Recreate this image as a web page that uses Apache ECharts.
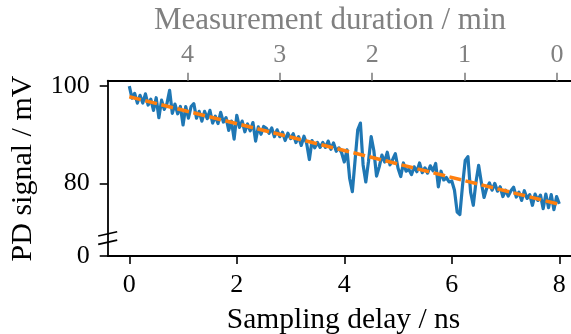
<!DOCTYPE html>
<html><head><meta charset="utf-8">
<script src="https://cdn.jsdelivr.net/npm/echarts@6/dist/echarts.min.js"></script>
<style>html,body{margin:0;padding:0;background:#fff}#c{width:571px;height:334px}</style>
</head><body><div id="c"></div>
<script>
// Sampling delay (ns)
const delay = [0.00,0.05,0.10,0.15,0.20,0.25,0.30,0.35,0.40,0.45,0.50,0.55,0.60,0.65,0.70,0.75,0.80,0.85,0.90,0.95,
1.00,1.05,1.10,1.15,1.20,1.25,1.30,1.35,1.40,1.45,1.50,1.55,1.60,1.65,1.70,1.75,1.80,1.85,1.90,1.95,
2.00,2.05,2.10,2.15,2.20,2.25,2.30,2.35,2.40,2.45,2.50,2.55,2.60,2.65,2.70,2.75,2.80,2.85,2.90,2.95,
3.00,3.05,3.10,3.15,3.20,3.25,3.30,3.35,3.40,3.45,3.50,3.55,3.60,3.65,3.70,3.75,3.80,3.85,3.90,3.95,
4.00,4.05,4.10,4.15,4.20,4.25,4.30,4.35,4.40,4.45,4.50,4.55,4.60,4.65,4.70,4.75,4.80,4.85,4.90,4.95,
5.00,5.05,5.10,5.15,5.20,5.25,5.30,5.35,5.40,5.45,5.50,5.55,5.60,5.65,5.70,5.75,5.80,5.85,5.90,5.95,
6.00,6.05,6.10,6.15,6.20,6.25,6.30,6.35,6.40,6.45,6.50,6.55,6.60,6.65,6.70,6.75,6.80,6.85,6.90,6.95,
7.00,7.05,7.10,7.15,7.20,7.25,7.30,7.35,7.40,7.45,7.50,7.55,7.60,7.65,7.70,7.75,7.80,7.85,7.90,7.95,8.00];
// PD signal (mV)
const signal = [100.0,97.5,98.5,96.5,98.1,96.5,98.4,96.1,97.3,95.0,97.6,93.5,97.1,95.2,96.4,99.1,94.4,96.3,94.3,95.8,
92.0,95.8,93.4,95.8,96.4,93.4,94.8,92.8,94.8,93.3,95.0,92.4,93.8,92.3,94.6,92.6,93.5,90.9,92.8,89.1,
94.0,91.5,92.8,90.6,92.2,90.8,92.5,88.7,91.6,90.1,91.7,91.3,90.3,91.4,89.6,91.0,89.6,90.5,88.8,90.3,
89.2,90.2,88.4,89.6,87.8,89.7,88.2,84.9,88.8,87.3,88.4,87.4,88.4,87.4,88.7,87.0,88.3,86.6,87.3,86.3,
84.4,86.9,81.0,78.3,84.7,91.0,92.4,83.8,80.3,84.5,89.6,86.7,81.5,83.4,85.8,84.4,86.4,83.8,84.9,86.1,
83.1,81.4,84.2,82.5,82.9,81.8,83.4,82.4,84.2,82.2,83.2,82.1,83.6,82.6,84.1,79.3,82.5,80.7,81.2,80.3,
80.5,78.6,74.1,73.6,79.6,84.7,85.5,78.2,75.5,80.3,83.7,80.2,77.1,79.0,80.1,78.6,80.0,78.4,79.3,77.3,
78.6,77.4,78.5,79.2,77.2,78.2,76.5,78.5,76.9,77.7,75.5,77.8,76.5,77.6,74.8,77.8,75.0,77.7,74.6,77.3,75.8];
// Linear fit
const fitDelay = [0, 8];
const fitSignal = [97.8, 75.7];
// Tick labels
const xTicks = [0, 2, 4, 6, 8];
const yTicksUpper = [80, 100];
const yTicksLower = [0];
const topTicks = [4, 3, 2, 1, 0];

const FONT = 'Liberation Serif';
const FS = 26;
const GRAY = '#808080';
const L = 107.7, TOP = 80.7, UPB = 234, LOWB = 256;

const chart = echarts.init(document.getElementById('c'), null, {renderer: 'canvas'});
const lineData = delay.map((d, i) => [d, signal[i]]);
const fitData = fitDelay.map((d, i) => [d, fitSignal[i]]);

chart.setOption({
  animation: false,
  backgroundColor: '#fff',
  grid: [
    {left: L, right: 0, top: TOP, height: UPB - TOP},
    {left: L, right: 0, top: UPB, height: LOWB - UPB}
  ],
  xAxis: [
    {gridIndex: 0, type: 'value', min: -0.402, max: 8.218, show: false},
    {gridIndex: 0, type: 'value', position: 'top', inverse: true, min: -0.152, max: 4.864,
     axisLine: {show: true, onZero: false, lineStyle: {color: '#000', width: 1.8}},
     axisTick: {show: true, inside: false, length: 8, lineStyle: {color: GRAY, width: 1.6}, customValues: topTicks},
     axisLabel: {color: GRAY, fontFamily: FONT, fontSize: FS, margin: 13, customValues: topTicks},
     splitLine: {show: false}},
    {gridIndex: 1, type: 'value', position: 'bottom', min: -0.402, max: 8.218,
     axisLine: {show: true, onZero: false, lineStyle: {color: '#000', width: 1.8}},
     axisTick: {show: true, inside: false, length: 8, lineStyle: {color: '#000', width: 1.6}, customValues: xTicks},
     axisLabel: {color: '#000', fontFamily: FONT, fontSize: FS, margin: 16, customValues: xTicks},
     splitLine: {show: false}}
  ],
  yAxis: [
    {gridIndex: 0, type: 'value', min: 69.6, max: 101.1,
     axisLine: {show: true, onZero: false, lineStyle: {color: '#000', width: 1.8}},
     axisTick: {show: true, inside: false, length: 8, lineStyle: {color: '#000', width: 1.6}, customValues: yTicksUpper},
     axisLabel: {color: '#000', fontFamily: FONT, fontSize: FS, margin: 18, customValues: yTicksUpper},
     splitLine: {show: false}},
    {gridIndex: 1, type: 'value', min: 0, max: 4.5,
     axisLine: {show: true, onZero: false, lineStyle: {color: '#000', width: 1.8}},
     axisTick: {show: true, inside: false, length: 8, lineStyle: {color: '#000', width: 1.6}, customValues: yTicksLower},
     axisLabel: {color: '#000', fontFamily: FONT, fontSize: FS, margin: 18, customValues: yTicksLower},
     splitLine: {show: false}}
  ],
  series: [
    {type: 'line', xAxisIndex: 0, yAxisIndex: 0, data: lineData, showSymbol: false, symbol: 'none',
     lineStyle: {color: '#1f77b4', width: 3.2, join: 'round'}, z: 2},
    {type: 'line', xAxisIndex: 0, yAxisIndex: 0, data: fitData, showSymbol: false, symbol: 'none',
     lineStyle: {color: '#ff7f0e', width: 3.5, type: [12, 4.5]}, z: 3}
  ],
  graphic: [
    {type: 'text', x: 330, y: 21,
     style: {text: 'Measurement duration / min', fill: GRAY, font: '31px "' + FONT + '"', textAlign: 'center', textVerticalAlign: 'middle'}},
    {type: 'text', x: 343.5, y: 320,
     style: {text: 'Sampling delay / ns', fill: '#000', font: '29.5px "' + FONT + '"', textAlign: 'center', textVerticalAlign: 'middle'}},
    {type: 'text', x: 23, y: 168.5, rotation: Math.PI / 2,
     style: {text: 'PD signal / mV', fill: '#000', font: '30px "' + FONT + '"', textAlign: 'center', textVerticalAlign: 'middle'}},
    {type: 'line', shape: {x1: L - 9.5, y1: 236, x2: L + 9.5, y2: 231.7}, style: {stroke: '#000', lineWidth: 1.6}},
    {type: 'line', shape: {x1: L - 9.5, y1: 244.4, x2: L + 9.5, y2: 240.1}, style: {stroke: '#000', lineWidth: 1.6}}
  ]
});
</script></body></html>
